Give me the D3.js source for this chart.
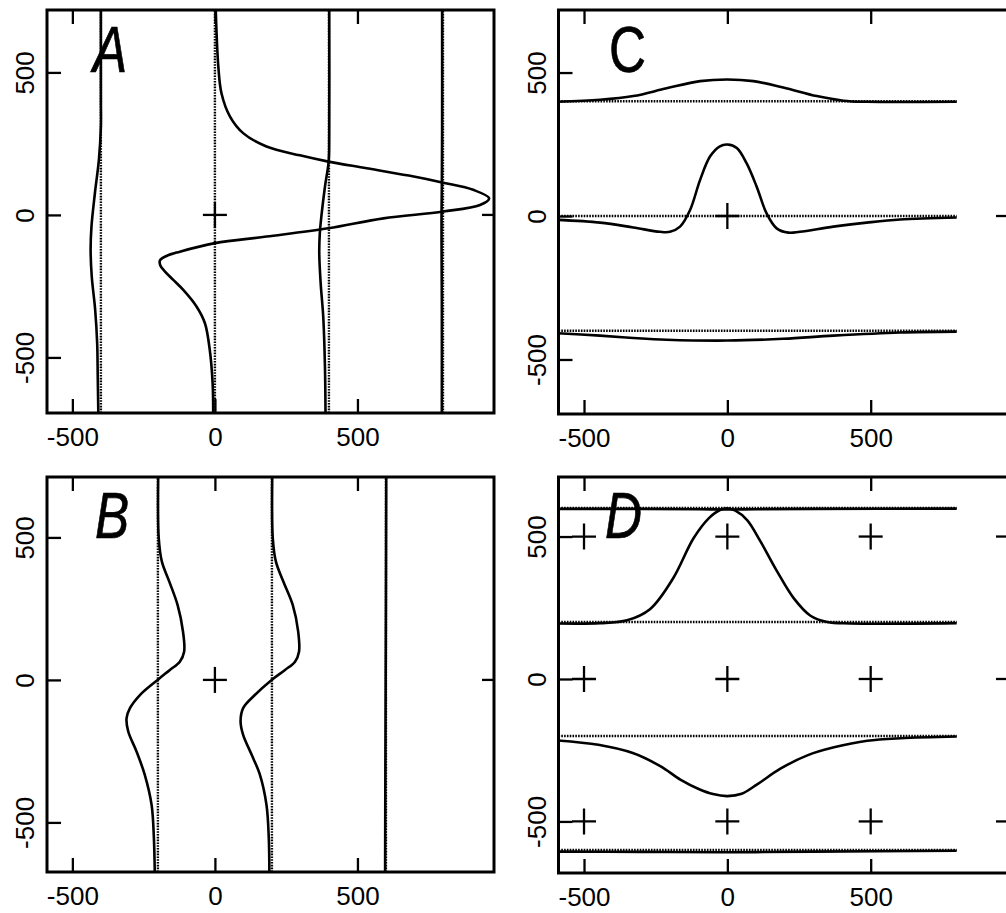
<!DOCTYPE html>
<html>
<head>
<meta charset="utf-8">
<script src="https://cdn.jsdelivr.net/npm/d3@7"></script>
<style>
  body { margin: 0; background: #fff; }
  svg { display: block; }
  text { font-family: "Liberation Sans", Arial, sans-serif; }
</style>
</head>
<body>
<svg id="fig" width="1006" height="913"></svg>
<script>
// ---------- data ----------
const xTicks = [-500, 0, 500];
const yTicks = [-500, 0, 500];
const tickLabels = ["-500", "0", "500"];
const panelNames = ["A", "B", "C", "D"];

// Panel A: vertical reference lines and displaced traces, points are [y, x]
const aBase = [-400, 0, 400, 800];
const aTraceM400 = [[719,-400],[400,-400],[310,-400],[193,-407],[76,-421],[-41,-433],[-123,-436],[-216,-432],[-333,-420],[-450,-413],[-567,-411],[-695,-409]];
const aTrace0 = [[719,3],[520,12],[427,23],[345,53],[287,99],[240,181],[209,298],[187,398],[164,532],[138,680],[113,801],[88,906],[58,962],[35,930],[12,801],[-12,591],[-47,398],[-76,181],[-99,0],[-129,-123],[-144,-170],[-160,-193],[-178,-191],[-199,-175],[-228,-146],[-263,-111],[-322,-64],[-380,-35],[-474,-18],[-591,-8],[-696,-6]];
const aTrace400 = [[719,401],[287,401],[187,399],[99,386],[0,374],[-64,368],[-134,366],[-240,371],[-357,380],[-532,386],[-696,388]];
const aTrace800 = [[719,797],[300,797],[100,796],[0,795],[-100,795],[-300,796],[-696,796]];

// Panel B: vertical reference lines, points are [y, x]
const bBase = [-200, 200, 600];
const bTraceM200 = [[712,-199],[497,-197],[415,-186],[345,-160],[263,-131],[170,-112],[99,-108],[64,-123],[35,-158],[0,-201],[-53,-263],[-99,-298],[-135,-310],[-181,-304],[-251,-275],[-333,-246],[-439,-222],[-556,-214],[-674,-211]];
const bTrace200 = [[712,201],[497,203],[415,214],[345,240],[263,273],[170,292],[99,295],[64,281],[35,246],[0,199],[-53,140],[-99,99],[-146,90],[-193,99],[-263,129],[-333,158],[-439,181],[-556,189],[-674,191]];
const bTrace600 = [[712,601],[300,600],[0,599],[-300,598],[-674,597]];

// Panel C: horizontal reference lines, points are [x, y]
const cBase = [400, 0, -400];
const cTrace400 = [[-600,398],[-444,405],[-328,418],[-212,445],[-95,470],[0,476],[91,470],[195,448],[312,418],[405,402],[486,398],[800,398]];
const cTrace0 = [[-600,-13],[-444,-23],[-328,-40],[-235,-55],[-200,-55],[-165,-37],[-130,21],[-95,126],[-60,208],[-26,243],[0,249],[33,237],[67,184],[102,103],[137,9],[172,-43],[213,-58],[253,-55],[370,-37],[486,-23],[602,-12],[800,-5]];
const cTraceM400 = [[-600,-408],[-444,-417],[-328,-425],[-212,-431],[0,-434],[195,-428],[370,-417],[602,-406],[800,-403]];

// Panel D: horizontal reference lines, points are [x, y]
const dBase = [600, 200, -200, -600];
const dTrace600 = [[-600,597],[-300,597],[-100,596],[0,595],[100,596],[300,597],[800,598]];
const dTrace200 = [[-600,195],[-444,196],[-350,206],[-270,245],[-190,352],[-118,494],[-65,564],[-24,594],[0,599],[28,591],[69,558],[115,484],[174,377],[232,283],[290,222],[348,200],[430,195],[800,196]];
const dTraceM200 = [[-600,-215],[-450,-231],[-330,-260],[-234,-306],[-164,-353],[-100,-386],[-50,-404],[0,-411],[50,-403],[104,-370],[185,-315],[279,-268],[372,-240],[488,-217],[605,-208],[800,-202]];
const dTraceM600 = [[-600,-606],[-300,-607],[0,-608],[300,-606],[800,-603]];

const dGrid = [-500, 0, 500];

// ---------- layout ----------
const panels = [
  { name: panelNames[0], box: [47, 10, 494, 413], xDom: [-589, 979], yDom: [-695, 719],
    dir: "v", base: aBase, traces: [aTraceM400, aTrace0, aTrace400, aTrace800],
    crosses: [[0, 0]], rightTicks: [0], label: { x: 93, y: 72, italic: true } },
  { name: panelNames[1], box: [47, 477, 494, 872], xDom: [-589, 979], yDom: [-674, 712],
    dir: "v", base: bBase, traces: [bTraceM200, bTrace200, bTrace600],
    crosses: [[0, 0]], rightTicks: [0], label: { x: 95, y: 538, italic: true } },
  { name: panelNames[2], box: [558.5, 10, 1008, 414], xDom: [-589, 979], yDom: [-690, 718],
    dir: "h", base: cBase, traces: [cTrace400, cTrace0, cTraceM400],
    crosses: [[0, 0]], rightTicks: [0], label: { x: 609, y: 72, italic: false } },
  { name: panelNames[3], box: [558.5, 477, 1008, 873], xDom: [-589, 979], yDom: [-681, 709],
    dir: "h", base: dBase, traces: [dTrace600, dTrace200, dTraceM200, dTraceM600],
    crosses: dGrid.flatMap(gx => dGrid.map(gy => [gx, gy])), rightTicks: [-500, 0, 500],
    label: { x: 605, y: 538, italic: true } }
];

const svg = d3.select("#fig");
const defs = svg.append("defs");
const TICK = 14;
const INK = "#000";

panels.forEach((p, i) => {
  const [x0, y0, x1, y1] = p.box;
  const x = d3.scaleLinear().domain(p.xDom).range([x0, x1]);
  const y = d3.scaleLinear().domain(p.yDom).range([y1, y0]);
  const g = svg.append("g");

  const clipId = "clip" + i;
  defs.append("clipPath").attr("id", clipId)
    .append("rect").attr("x", x0).attr("y", y0).attr("width", x1 - x0).attr("height", y1 - y0);

  // panel letter, set in a condensed cut
  g.append("text")
    .attr("transform", `translate(${p.label.x},${p.label.y}) scale(0.8,1)`)
    .attr("font-size", 64)
    .attr("font-style", p.label.italic ? "italic" : "normal")
    .attr("fill", INK)
    .attr("stroke", INK).attr("stroke-width", 0.7)
    .text(p.name);

  const plot = g.append("g").attr("clip-path", `url(#${clipId})`);

  // dotted reference lines
  plot.selectAll("line.ref").data(p.base).join("line")
    .attr("class", "ref")
    .attr("x1", d => p.dir === "v" ? x(d) : x(p.xDom[0]))
    .attr("x2", d => p.dir === "v" ? x(d) : x(800))
    .attr("y1", d => p.dir === "v" ? y(p.yDom[0]) : y(d))
    .attr("y2", d => p.dir === "v" ? y(p.yDom[1]) : y(d))
    .attr("stroke", "#000").attr("stroke-width", 2.4)
    .attr("stroke-dasharray", "1.6,1.2");

  // traces
  const line = d3.line()
    .x(d => p.dir === "v" ? x(d[1]) : x(d[0]))
    .y(d => p.dir === "v" ? y(d[0]) : y(d[1]))
    .curve(d3.curveCatmullRom.alpha(0.5));
  plot.selectAll("path.trace").data(p.traces).join("path")
    .attr("class", "trace")
    .attr("d", line)
    .attr("fill", "none").attr("stroke", INK).attr("stroke-width", 2.6);

  // cross markers
  const cr = plot.selectAll("g.cross").data(p.crosses).join("g")
    .attr("class", "cross")
    .attr("transform", d => `translate(${x(d[0])},${y(d[1])})`);
  cr.append("line").attr("x1", -12).attr("x2", 12).attr("y1", 0).attr("y2", 0)
    .attr("stroke", INK).attr("stroke-width", 2.3);
  cr.append("line").attr("x1", 0).attr("x2", 0).attr("y1", -13).attr("y2", 13)
    .attr("stroke", INK).attr("stroke-width", 2.3);

  // right-hand ticks
  g.selectAll("line.rt").data(p.rightTicks).join("line")
    .attr("class", "rt")
    .attr("x1", x1 - 12).attr("x2", x1)
    .attr("y1", d => y(d)).attr("y2", d => y(d))
    .attr("stroke", INK).attr("stroke-width", 2.3);

  // axes with inward ticks
  const fmt = d => tickLabels[xTicks.indexOf(d)];
  const bottom = g.append("g").attr("transform", `translate(0,${y1})`)
    .call(d3.axisBottom(x).tickValues(xTicks).tickSize(-TICK).tickPadding(15).tickFormat(fmt));
  const top = g.append("g").attr("transform", `translate(0,${y0})`)
    .call(d3.axisTop(x).tickValues(xTicks).tickSize(-TICK).tickFormat(""));
  const left = g.append("g").attr("transform", `translate(${x0},0)`)
    .call(d3.axisLeft(y).tickValues(yTicks).tickSize(-TICK).tickFormat(d => tickLabels[yTicks.indexOf(d)]));

  [bottom, top, left].forEach(a => {
    a.select(".domain").remove();
    a.selectAll(".tick line").attr("stroke", INK).attr("stroke-width", 2.3);
    a.selectAll(".tick text").attr("fill", INK).attr("font-size", 26)
      .attr("font-family", '"Liberation Sans", Arial, sans-serif');
  });
  left.selectAll(".tick text")
    .attr("transform", "rotate(-90)")
    .attr("x", 0).attr("y", -13).attr("dy", 0)
    .attr("text-anchor", "middle");

  // frame
  g.append("rect")
    .attr("x", x0).attr("y", y0).attr("width", x1 - x0).attr("height", y1 - y0)
    .attr("fill", "none").attr("stroke", INK).attr("stroke-width", 3);
});
</script>
</body>
</html>
